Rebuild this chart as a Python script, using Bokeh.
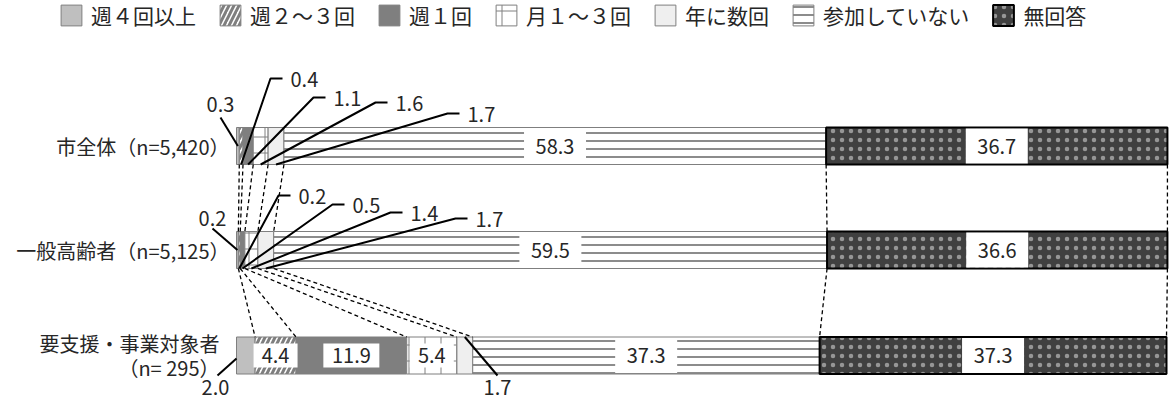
import numpy as np
from bokeh.plotting import figure
from bokeh.models import ColumnDataSource, Range1d, Legend, LegendItem
from bokeh.core.properties import value
from bokeh.embed import file_html
from bokeh.resources import INLINE

# ---------------- data ----------------
categories = ["週４回以上", "週２～３回", "週１回", "月１～３回", "年に数回", "参加していない", "無回答"]
groups = ["市全体（n=5,420）", "一般高齢者（n=5,125）", "要支援・事業対象者"]
group_sub = ["", "", "（n= 295）"]
v_all = [0.3, 0.4, 1.1, 1.6, 1.7, 58.3, 36.7]
v_general = [0.2, 0.2, 0.5, 1.4, 1.7, 59.5, 36.6]
v_support = [2.0, 4.4, 11.9, 5.4, 1.7, 37.3, 37.3]
series = [v_all, v_general, v_support]

# ---------------- layout ----------------
FIG_W, FIG_H = 1170, 403
PX0, PXU = 236.0, 9.30          # pixel of 0 %, pixels per %
BAR_Y = [145.5, 249.5, 355]
BAR_H = 37
FONT = value("Noto Sans CJK JP")
TXT = "#262626"


def dx(fx):
    return (fx - PX0) / PXU


styles = [
    dict(fill_color="#bfbfbf", line_color="#7f7f7f", line_width=1),
    dict(fill_color="white", line_color="#7f7f7f", line_width=1,
         hatch_pattern="/", hatch_color="#7f7f7f", hatch_scale=10, hatch_weight=3),
    dict(fill_color="#7f7f7f", line_color="#7f7f7f", line_width=1),
    dict(fill_color="white", line_color="#7f7f7f", line_width=1,
         hatch_pattern="+", hatch_color="#7f7f7f", hatch_scale=16, hatch_weight=1),
    dict(fill_color="#efefef", line_color="#7f7f7f", line_width=1),
    dict(fill_color="white", line_color="#7f7f7f", line_width=1,
         hatch_pattern="-", hatch_color="#8c8c8c", hatch_scale=8, hatch_weight=2),
    dict(fill_color="#404040", line_color="black", line_width=2,
         hatch_pattern=".", hatch_color="white", hatch_scale=9, hatch_weight=0.5, hatch_alpha=0.45),
]

p = figure(width=FIG_W, height=FIG_H, output_backend="svg", toolbar_location=None,
           x_range=Range1d(-PX0 / PXU, (FIG_W - PX0) / PXU),
           y_range=Range1d(FIG_H, 0),
           x_axis_type=None, y_axis_type=None, min_border=0)
p.grid.visible = False
p.outline_line_color = None

starts = [np.concatenate([[0], np.cumsum(v)[:-1]]) for v in series]
ends = [np.cumsum(v) for v in series]

renderers = []
for i, cat in enumerate(categories):
    src = ColumnDataSource(dict(
        y=BAR_Y,
        left=[starts[k][i] for k in range(3)],
        right=[ends[k][i] for k in range(3)],
    ))
    r = p.hbar(y="y", left="left", right="right", height=BAR_H, source=src, **styles[i])
    renderers.append(r)

# dashed connectors between bars
cx0, cy0, cx1, cy1 = [], [], [], []
for k in range(2):
    for j in range(len(categories)):
        cx0.append(ends[k][j]); cy0.append(BAR_Y[k] + BAR_H / 2)
        cx1.append(ends[k + 1][j]); cy1.append(BAR_Y[k + 1] - BAR_H / 2)
p.segment(cx0, cy0, cx1, cy1, line_color="black", line_width=1.3, line_dash="4 3")

# inside labels
bx, by, bw, bh, bt = [], [], [], [], []
for k in range(3):
    for j, v in enumerate(series[k]):
        if v >= 4:
            c = (starts[k][j] + ends[k][j]) / 2
            txt = f"{v:.1f}"
            bx.append(c); by.append(BAR_Y[k]); bt.append(txt)
            if v >= 30:
                bw.append(62); bh.append(BAR_H - 2)
            else:
                bw.append(12 * len(txt) + 8); bh.append(24)
p.rect(x=bx, y=by, width=bw, width_units="screen", height=bh, fill_color="white", line_color=None)
p.text(x=bx, y=by, text=bt, text_align="center", text_baseline="middle",
       text_font=FONT, text_font_size="20px", text_color=TXT)

# callouts (label positions are layout, in page pixels)
CALLOUTS = {
    0: {0: ("left", (220, 104), (220, 117)),
        1: ("elbow", (270, 78)), 2: ("elbow", (313, 97)),
        3: ("elbow", (375, 102)), 4: ("elbow", (447, 113))},
    1: {0: ("left", (212, 218), (212, 228)),
        1: ("elbow", (278, 195)), 2: ("elbow", (332, 204)),
        3: ("elbow", (390, 212)), 4: ("elbow", (455, 218))},
    2: {0: ("below_left", (215, 387), (217, 375)),
        4: ("below_right", (497, 387), (497, 375))},
}
lxs, lys = [], []
tx_c, ty_c, tt_c = [], [], []
tx_l, ty_l, tt_l = [], [], []
for k, spec in CALLOUTS.items():
    for j, item in spec.items():
        v = series[k][j]
        txt = f"{v:.1f}"
        seg_c = (starts[k][j] + ends[k][j]) / 2
        kind = item[0]
        if kind == "left":
            (tcx, tcy), (sx, sy) = item[1], item[2]
            lxs.append([dx(sx), seg_c]); lys.append([sy, BAR_Y[k]])
            tx_c.append(dx(tcx)); ty_c.append(tcy); tt_c.append(txt)
        elif kind == "elbow":
            ex, ey = item[1]
            lxs.append([seg_c, dx(ex), dx(ex + 12)])
            lys.append([BAR_Y[k] + BAR_H / 2, ey, ey])
            tx_l.append(dx(ex + 20)); ty_l.append(ey + 1); tt_l.append(txt)
        elif kind == "below_left":
            (tcx, tcy), (sx, sy) = item[1], item[2]
            lxs.append([dx(sx), starts[k][j]]); lys.append([sy, BAR_Y[k] + 3])
            tx_c.append(dx(tcx)); ty_c.append(tcy); tt_c.append(txt)
        else:
            (tcx, tcy), (sx, sy) = item[1], item[2]
            lxs.append([seg_c, dx(sx)]); lys.append([BAR_Y[k] - BAR_H / 2, sy])
            tx_c.append(dx(tcx)); ty_c.append(tcy); tt_c.append(txt)

p.multi_line(xs=lxs, ys=lys, line_color="black", line_width=2)
p.text(x=tx_c, y=ty_c, text=tt_c, text_align="center", text_baseline="middle",
       text_font=FONT, text_font_size="20px", text_color=TXT)
p.text(x=tx_l, y=ty_l, text=tt_l, text_align="left", text_baseline="middle",
       text_font=FONT, text_font_size="20px", text_color=TXT)

# group labels
LABEL_RIGHT = [229, 229, 219]
LABEL_DY = [0, 0, -12]
for k in range(3):
    p.text(x=[dx(LABEL_RIGHT[k])], y=[BAR_Y[k] + LABEL_DY[k]], text=[groups[k]],
           text_align="right", text_baseline="middle",
           text_font=FONT, text_font_size="20px", text_color=TXT)
    if group_sub[k]:
        p.text(x=[dx(LABEL_RIGHT[k])], y=[BAR_Y[k] + 12], text=[group_sub[k]],
               text_align="right", text_baseline="middle",
               text_font=FONT, text_font_size="20px", text_color=TXT)

legend = Legend(items=[LegendItem(label=c, renderers=[r]) for c, r in zip(categories, renderers)],
                orientation="horizontal", location=(58, FIG_H - 30),
                glyph_width=26, glyph_height=26, label_standoff=7, spacing=21,
                padding=0, margin=0, border_line_color=None, background_fill_alpha=0,
                label_text_font="Noto Sans CJK JP", label_text_font_size="21px",
                label_text_color=TXT)
p.add_layout(legend)

open("out.html", "w").write(file_html(p, INLINE))
